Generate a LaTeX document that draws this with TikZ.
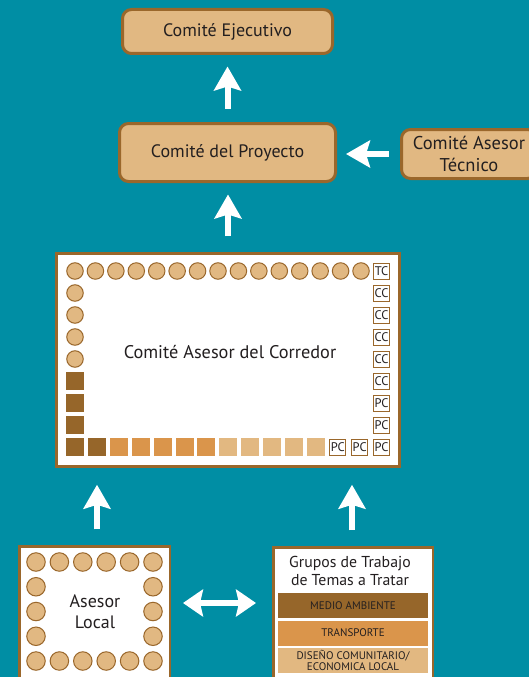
\documentclass[tikz,border=0pt]{standalone}
\usepackage{fontspec}
\setmainfont{PT Sans}
\usetikzlibrary{arrows.meta}
\definecolor{sea}{RGB}{0,142,164}
\definecolor{tanfill}{RGB}{225,184,130}
\definecolor{rim}{RGB}{154,103,43}
\definecolor{darkbrown}{RGB}{150,102,42}
\definecolor{midorange}{RGB}{218,149,75}
\definecolor{lightsand}{RGB}{226,184,129}
\definecolor{ink}{RGB}{35,31,32}
\tikzset{
    board/.style={rectangle, rounded corners=9pt, draw=rim, fill=tanfill, line width=3pt, text=ink, font=\fontsize{18}{21}\selectfont},
    panel/.style={rectangle, draw=rim, fill=white, line width=2.5pt},
    seat/.style={circle, draw=rim, fill=tanfill, line width=1pt, inner sep=0pt, minimum size=16.5pt},
    tile/.style={rectangle, inner sep=0pt, minimum size=18pt},
    tag/.style={rectangle, draw=rim, fill=white, line width=0.9pt, inner sep=0pt, minimum size=16pt, text=ink, font=\fontsize{12.5}{12.5}\selectfont},
    band/.style={rectangle, inner sep=0pt, minimum width=150pt, minimum height=25pt, text=ink, align=center, font=\fontsize{11}{10.5}\selectfont},
    flow/.style={draw=white, line width=6pt, -{Stealth[length=24pt,width=27pt,inset=4pt]}},
    flowboth/.style={draw=white, line width=6pt, {Stealth[length=20pt,width=27pt,inset=3pt]}-{Stealth[length=20pt,width=27pt,inset=3pt]}}
}

\begin{document}
\begin{tikzpicture}[x=1pt, y=-1pt]
  \useasboundingbox (0,0) rectangle (529,677);
  \clip (0,0) rectangle (529,677);
  \fill [sea] (0,0) rectangle (529,677);

  % upper committees
  \node (ejecutivo) [board, minimum width=210pt, minimum height=44pt] at (227.5,31.5) {Comité Ejecutivo};
  \node (proyecto) [board, minimum width=216pt, minimum height=58pt] at (227.5,152.5) {Comité del Proyecto};
  \node (tecnico) [board, minimum width=135pt, minimum height=49pt, align=center, font=\fontsize{18.5}{22}\selectfont] at (469,154) {Comité Asesor\\Técnico};

  % corridor committee
  \node (corredor) [panel, minimum width=343pt, minimum height=213pt] at (228,360) {};
  \node (corrtitulo) [text=ink, font=\fontsize{18.3}{21}\selectfont] at (230,352) {Comité Asesor del Corredor};
  \foreach \i in {0,...,14}
    \node (arriba\i) [seat] at (75+20.43*\i,271) {};
  \node (tc) [tag] at (381.5,271) {TC};
  \foreach \j in {1,...,4}
    \node (izq\j) [seat] at (75,271+22*\j) {};
  \foreach \j in {5,6,7}
    \node (izq\j) [tile, fill=darkbrown] at (75,271+22*\j) {};
  \foreach \j in {1,...,5}
    \node (der\j) [tag] at (381.5,271+22*\j) {CC};
  \foreach \j in {6,7}
    \node (der\j) [tag] at (381.5,271+22*\j) {PC};
  \foreach \i in {0,1}
    \node (abajo\i) [tile, fill=darkbrown] at (75+21.9*\i,447) {};
  \foreach \i in {2,...,6}
    \node (abajo\i) [tile, fill=midorange] at (75+21.9*\i,447) {};
  \foreach \i in {7,...,11}
    \node (abajo\i) [tile, fill=lightsand] at (75+21.9*\i,447) {};
  \foreach \i in {12,13,14}
    \node (abajo\i) [tag] at (75+21.9*\i,447) {PC};

  % local adviser
  \node (local) [panel, minimum width=150.5pt, minimum height=142pt] at (94.5,617.5) {};
  \foreach \i in {0,...,5} {
    \node (ltop\i) [seat, minimum size=18.5pt] at (36+23.4*\i,562) {};
    \node (lbot\i) [seat, minimum size=18.5pt] at (36+23.4*\i,661) {};
  }
  \foreach \j in {1,2,3} {
    \node (lizq\j) [seat, minimum size=18.5pt] at (36,562+24.75*\j) {};
    \node (lder\j) [seat, minimum size=18.5pt] at (153,562+24.75*\j) {};
  }
  \node (asesor) [align=center, text=ink, font=\fontsize{18}{21}\selectfont] at (95,611.5) {Asesor\\Local};

  % working groups
  \node (grupos) [panel, minimum width=159.5pt, minimum height=142pt] at (353,618.5) {};
  \node (temas) [align=center, text=ink, font=\fontsize{15.8}{18}\selectfont] at (350,571) {Grupos de Trabajo\\de Temas a Tratar};
  \node (medio) [band, fill=darkbrown] at (353,605.5) {MEDIO AMBIENTE};
  \node (transporte) [band, fill=midorange] at (353,633) {TRANSPORTE};
  \node (diseno) [band, fill=lightsand] at (353,660.5) {DISEÑO COMUNITARIO/\\ECONOMICA LOCAL};

  % arrows
  \draw [flow, shorten <=13.5pt, shorten >=11.5pt] (proyecto.north) -- (ejecutivo.south);
  \draw [flow, shorten <=16pt, shorten >=11.5pt] (corredor.north) -- (corredor.north |- proyecto.south);
  \draw [flow, shorten <=11pt, shorten >=9pt] (tecnico.west) -- (tecnico.west -| proyecto.east);
  \draw [flow, shorten <=16pt, shorten >=17pt] ([xshift=2.5pt]local.north) -- ([xshift=2.5pt]local.north |- corredor.south);
  \draw [flow, shorten <=16pt, shorten >=17pt] ([xshift=-1pt]grupos.north) -- ([xshift=-1pt]grupos.north |- corredor.south);
  \draw [flowboth, shorten <=12pt, shorten >=16pt] ([yshift=14.5pt]local.east) -- ([yshift=14.5pt]local.east -| grupos.west);
\end{tikzpicture}
\end{document}
